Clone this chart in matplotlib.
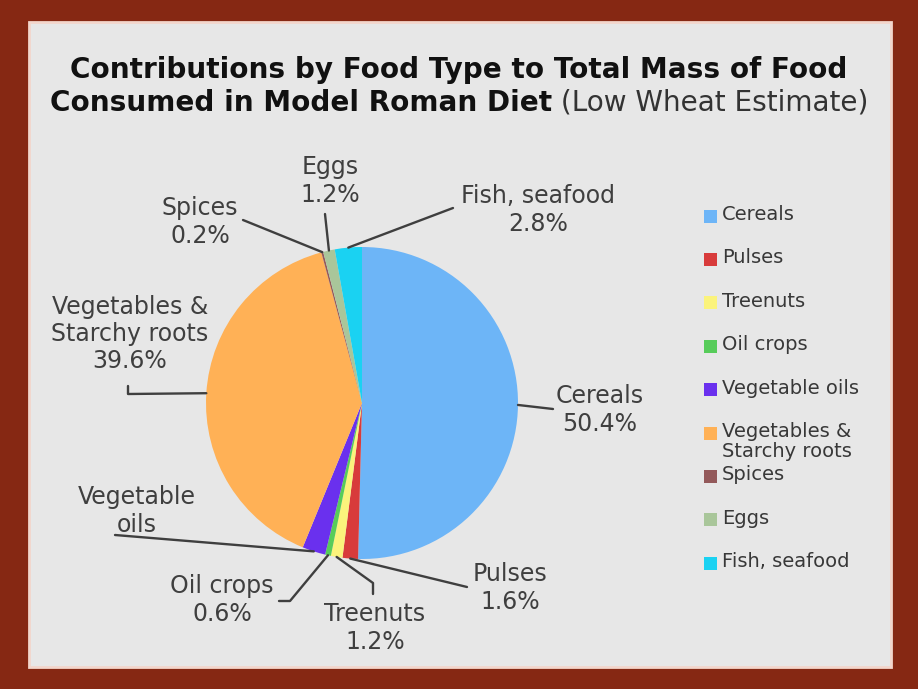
import matplotlib
matplotlib.use("Agg")
import matplotlib.pyplot as plt
from matplotlib.patches import Rectangle
import numpy as np

W, H = 918, 689

categories = ["Cereals", "Pulses", "Treenuts", "Oil crops", "Vegetable oils",
              "Vegetables &\nStarchy roots", "Spices", "Eggs", "Fish, seafood"]
values = [50.4, 1.6, 1.2, 0.6, 2.4, 39.6, 0.2, 1.2, 2.8]
pie_labels = ["Cereals\n50.4%", "Pulses\n1.6%", "Treenuts\n1.2%", "Oil crops\n0.6%",
              "Vegetable\noils", "Vegetables &\nStarchy roots\n39.6%", "Spices\n0.2%",
              "Eggs\n1.2%", "Fish, seafood\n2.8%"]
colors = ["#6db5f7", "#d83b3b", "#fbf37c", "#57cc5a", "#6a30ee",
          "#ffb156", "#93595a", "#a9c69a", "#1ad2f2"]

title1 = "Contributions by Food Type to Total Mass of Food"
title2a = "Consumed in Model Roman Diet"
title2b = " (Low Wheat Estimate)"

def Y(py):
    return H - py

fig = plt.figure(figsize=(W / 100, H / 100), dpi=100)
fig.patch.set_facecolor("#862813")
ax = fig.add_axes([0, 0, 1, 1])
ax.set_axis_off()

# panel
ax.add_patch(Rectangle((29, Y(667)), 862, 645, facecolor="#e7e7e7",
                       edgecolor="#f3d6cc", linewidth=2, zorder=0))

cx, cy, R = 362, 403, 156
wedges, _ = ax.pie(values, colors=colors, startangle=90, counterclock=False,
                   center=(cx, Y(cy)), radius=R, wedgeprops=dict(linewidth=0))
ax.set_xlim(0, W)
ax.set_ylim(0, H)
ax.set_aspect("equal")

# label layout (pixel, y down): text centre and leader path points
label_pos = [(600, 410), (510, 588), (375, 628), (222, 600), (137, 511),
             (130, 334), (200, 222), (330, 181), (538, 210)]
leader_pts = [[(553, 409)],
              [(467, 587)],
              [(373, 583), (373, 594)],
              [(290, 601), (279, 601)],
              [(115, 535)],
              [(128, 394), (128, 386)],
              [(243, 220)],
              [(325, 214)],
              [(453, 208)]]

tc = "#3f3f3f"
for w, lab, (lx, ly), pts in zip(wedges, pie_labels, label_pos, leader_pts):
    mid = np.deg2rad((w.theta1 + w.theta2) / 2)
    ax_x = cx + R * np.cos(mid)
    ax_y = Y(cy) + R * np.sin(mid)
    xs = [ax_x] + [p[0] for p in pts]
    ys = [ax_y] + [Y(p[1]) for p in pts]
    ax.plot(xs, ys, color=tc, lw=1.7, solid_capstyle="round", zorder=3)
    ax.text(lx, Y(ly), lab, ha="center", va="center", fontsize=17,
            color=tc, linespacing=1.18, zorder=4)

# legend (manual)
leg_y0, leg_step = 216, 43.4
for i, (c, name) in enumerate(zip(colors, categories)):
    yy = leg_y0 + i * leg_step
    ax.add_patch(Rectangle((704, Y(yy) - 6.5), 13, 13, facecolor=c,
                           edgecolor="none", zorder=3))
    ax.text(722, Y(yy) + 11, name, ha="left", va="top", fontsize=14,
            color="#383838", linespacing=1.05, zorder=4)

# title
fig.canvas.draw()
r = fig.canvas.get_renderer()
t1 = ax.text(W / 2, Y(70), title1, ha="center", va="center", fontsize=20,
             fontweight="bold", color="#111111")
bb = t1.get_window_extent(r)
fs = 20 * 775 / bb.width
t1.set_fontsize(fs)
ta = ax.text(0, Y(103), title2a, ha="left", va="center", fontsize=fs,
             fontweight="bold", color="#111111")
tb = ax.text(0, Y(103), title2b, ha="left", va="center", fontsize=fs,
             color="#333333")
wa = ta.get_window_extent(r).width
wb = tb.get_window_extent(r).width
x0 = 50
ta.set_x(x0)
tb.set_x(x0 + wa)

fig.savefig("out.png", dpi=100, facecolor=fig.get_facecolor())
